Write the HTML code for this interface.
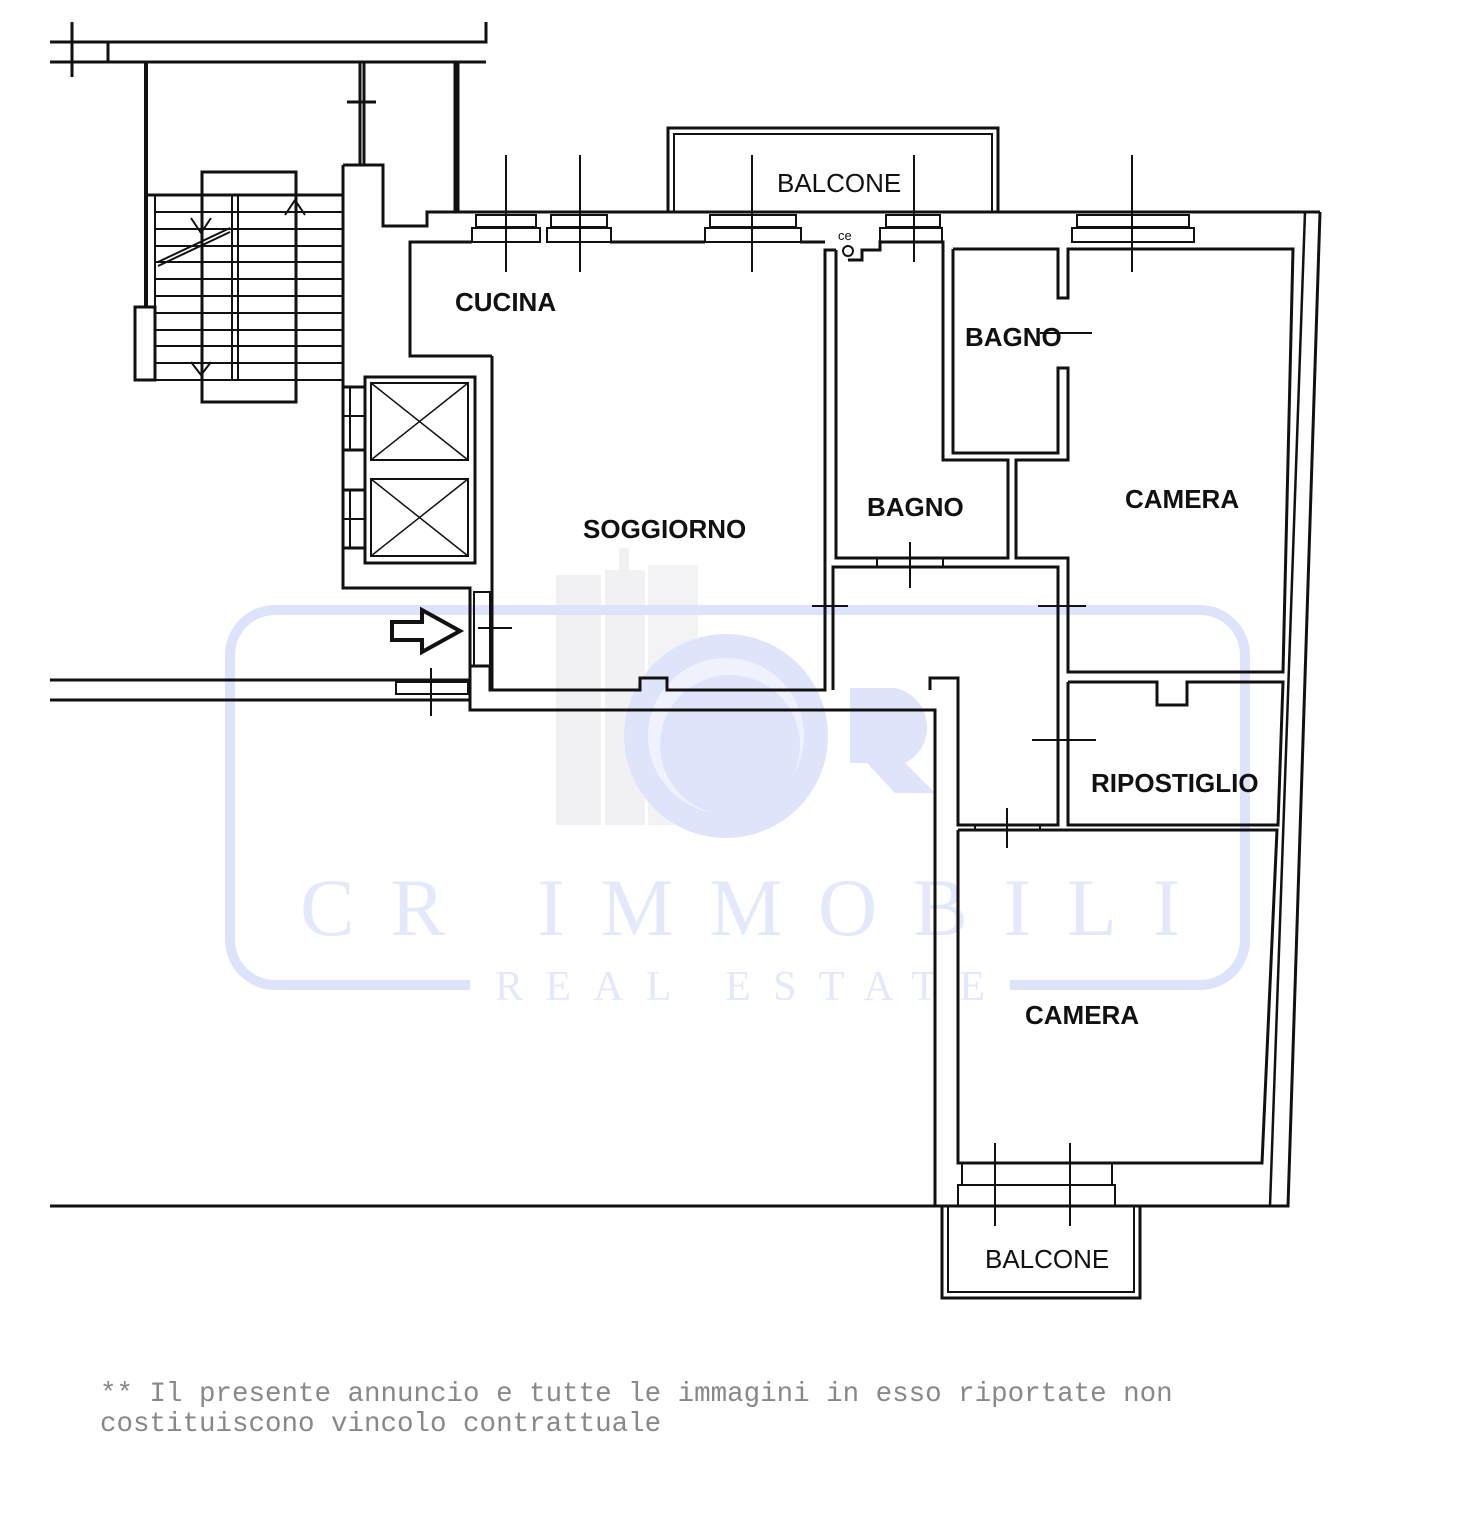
<!DOCTYPE html>
<html><head><meta charset="utf-8"><style>
html,body{margin:0;padding:0;background:#fff;width:1472px;height:1536px;overflow:hidden}
svg{position:absolute;left:0;top:0}
.t{font-family:"Liberation Sans",sans-serif;font-weight:bold;font-size:26px;fill:#111}
.b{font-family:"Liberation Sans",sans-serif;font-size:26px;fill:#111}
.f{position:absolute;left:100px;top:1380px;font-family:"Liberation Mono",monospace;font-size:27.5px;line-height:30px;color:#888;white-space:pre}
</style></head><body>
<svg width="1472" height="1536" viewBox="0 0 1472 1536">
<g>
<rect x="556" y="575" width="45" height="250" fill="#f1f1f3"/>
<rect x="605" y="570" width="40" height="255" fill="#f1f1f3"/>
<rect x="648" y="565" width="50" height="260" fill="#f3f3f5"/>
<rect x="619" y="548" width="10" height="30" fill="#f1f1f3"/>
<circle cx="726" cy="736" r="102" fill="#dfe4fb"/>
<circle cx="726" cy="736" r="78" fill="#fff" opacity="0.5"/>
<circle cx="730" cy="745" r="70" fill="#dfe4fb"/>
<path d="M850 688 h45 a40 40 0 0 1 10 75 l30 30 h-40 l-28 -30 h-17 z" fill="#dfe4fb"/>
<rect x="230" y="610" width="1015" height="375" rx="45" fill="none" stroke="#dde3fa" stroke-width="10"/>
<rect x="470" y="975" width="540" height="22" fill="#fff"/>
<text x="300" y="935" textLength="880" lengthAdjust="spacing" font-family="Liberation Serif,serif" font-size="82" fill="#e4e8fb">CR IMMOBILI</text>
<text x="495" y="1000" textLength="490" lengthAdjust="spacing" font-family="Liberation Serif,serif" font-size="42" fill="#e4e8fb">REAL ESTATE</text>
</g>
<g fill="none" stroke="#111" stroke-width="3">
<polyline points="50,42 486,42 486,22"/>
<polyline points="50,62 486,62"/>
<line x1="108" y1="42" x2="108" y2="62"/>
<line x1="72" y1="22" x2="72" y2="77"/>
<line x1="146" y1="62" x2="146" y2="307" stroke-width="4"/>
<line x1="360" y1="62" x2="360" y2="165"/><line x1="364" y1="62" x2="364" y2="165"/>
<line x1="347" y1="102" x2="376" y2="102"/>
<line x1="455" y1="62" x2="455" y2="212"/><line x1="458" y1="62" x2="458" y2="212"/>
<rect x="135" y="307" width="20" height="73"/>
<rect x="202" y="172" width="94" height="230"/>
<line x1="148" y1="195" x2="343" y2="195"/>
<g stroke-width="2">
<line x1="155" y1="195" x2="155" y2="380"/>
<line x1="155" y1="212" x2="343" y2="212"/><line x1="155" y1="229" x2="343" y2="229"/>
<line x1="155" y1="246" x2="343" y2="246"/><line x1="155" y1="262" x2="343" y2="262"/>
<line x1="155" y1="279" x2="343" y2="279"/><line x1="155" y1="296" x2="343" y2="296"/>
<line x1="155" y1="313" x2="343" y2="313"/><line x1="155" y1="330" x2="343" y2="330"/>
<line x1="155" y1="346" x2="343" y2="346"/><line x1="155" y1="363" x2="343" y2="363"/>
<line x1="155" y1="380" x2="343" y2="380"/>
<line x1="232" y1="195" x2="232" y2="380"/><line x1="238" y1="195" x2="238" y2="380"/>
<line x1="158" y1="262" x2="230" y2="228"/><line x1="158" y1="266" x2="230" y2="232"/>
<polyline points="191,218 201,233 211,218"/><polyline points="285,215 295,200 305,215"/><polyline points="191,362 201,375 211,362"/>
</g>
<polyline points="343,165 383,165 383,226 427,226 427,212 1320,212"/>
<polyline points="343,165 343,387 365,387"/>
<rect x="365" y="377" width="110" height="186"/>
<rect x="371" y="383" width="97" height="77" stroke-width="2"/>
<rect x="371" y="479" width="97" height="77" stroke-width="2"/>
<g stroke-width="1.5"><line x1="371" y1="383" x2="468" y2="460"/><line x1="468" y1="383" x2="371" y2="460"/>
<line x1="371" y1="479" x2="468" y2="556"/><line x1="468" y1="479" x2="371" y2="556"/></g>
<rect x="343" y="450" width="22" height="40"/>
<polyline points="343,387 343,450"/><polyline points="343,490 343,548 365,548"/>
<line x1="350" y1="387" x2="350" y2="450" stroke-width="2"/><line x1="350" y1="490" x2="350" y2="548" stroke-width="2"/>
<line x1="343" y1="416" x2="365" y2="416" stroke-width="2"/><line x1="343" y1="519" x2="365" y2="519" stroke-width="2"/>
<polyline points="343,548 343,588 470,588 470,710 935,710 935,1206 1288,1206 1320,212"/>
<polyline points="1305,212 1270,1206" stroke-width="2.5"/>
<polyline points="492,356 492,690 640,690 640,678 667,678 667,690 825,690 825,250 836,250"/>
<rect x="474" y="592" width="16" height="74" stroke-width="2"/>
<line x1="478" y1="628" x2="512" y2="628" stroke-width="2"/>
<line x1="470" y1="666" x2="490" y2="666"/>
<polyline points="490,666 490,690 500,690"/>
<path d="M392 622 h30 v-12 l38 21 -38 21 v-12 h-30 z" stroke-width="4"/>
<line x1="50" y1="680" x2="470" y2="680"/><line x1="50" y1="700" x2="470" y2="700"/>
<rect x="396" y="682" width="72" height="12" stroke-width="2"/>
<line x1="431" y1="668" x2="431" y2="716" stroke-width="2"/>
<line x1="50" y1="1206" x2="935" y2="1206"/>
<polyline points="492,356 410,356 410,242 472,242"/>
<line x1="610" y1="242" x2="705" y2="242"/>
<polyline points="800,242 825,242"/>
<polyline points="836,250 836,558 1008,558 1008,460 943,460 943,242 880,242 880,250 862,250 862,260 848,260"/>
<polyline points="953,249 1058,249 1058,298 1068,298 1068,249 1293,249 1283,672 1068,672 1068,558 1016,558 1016,460 1068,460 1068,368 1058,368 1058,453 953,453 953,249"/>
<line x1="1040" y1="333" x2="1092" y2="333" stroke-width="2"/>
<polyline points="833,690 833,567 1058,567 1058,825 958,825 958,678 930,678 930,690"/>
<line x1="877" y1="558" x2="877" y2="567" stroke-width="2"/><line x1="943" y1="558" x2="943" y2="567" stroke-width="2"/>
<line x1="910" y1="542" x2="910" y2="588" stroke-width="2"/>
<line x1="812" y1="606" x2="848" y2="606" stroke-width="2"/>
<line x1="1038" y1="606" x2="1086" y2="606" stroke-width="2"/>
<line x1="1032" y1="740" x2="1096" y2="740" stroke-width="2"/>
<polyline points="1068,682 1157,682 1157,705 1187,705 1187,682 1283,682 1278,825 1068,825 1068,682"/>
<polyline points="958,830 1277,830 1262,1163 958,1163 958,830"/>
<line x1="975" y1="825" x2="975" y2="830" stroke-width="2"/><line x1="1040" y1="825" x2="1040" y2="830" stroke-width="2"/>
<line x1="1007" y1="808" x2="1007" y2="848" stroke-width="2"/>
<g stroke-width="2">
<rect x="476" y="215" width="60" height="12"/><rect x="472" y="228" width="68" height="14"/>
<rect x="551" y="215" width="56" height="12"/><rect x="547" y="228" width="64" height="14"/>
<rect x="710" y="215" width="86" height="12"/><rect x="705" y="228" width="96" height="14"/>
<rect x="886" y="215" width="54" height="12"/><rect x="880" y="228" width="62" height="14"/>
<rect x="1077" y="215" width="112" height="12"/><rect x="1072" y="228" width="122" height="14"/>
<rect x="962" y="1163" width="150" height="22"/><rect x="958" y="1185" width="157" height="21"/>
</g>
<g stroke-width="2">
<line x1="506" y1="155" x2="506" y2="272"/><line x1="580" y1="155" x2="580" y2="272"/>
<line x1="752" y1="155" x2="752" y2="272"/><line x1="914" y1="155" x2="914" y2="262"/>
<line x1="1132" y1="155" x2="1132" y2="272"/>
<line x1="995" y1="1143" x2="995" y2="1226"/><line x1="1070" y1="1143" x2="1070" y2="1226"/>
</g>
<polyline points="668,212 668,128 998,128 998,212"/>
<polyline points="674,212 674,134 992,134 992,212" stroke-width="2"/>
<polyline points="942,1206 942,1298 1140,1298 1140,1206"/>
<polyline points="948,1206 948,1292 1134,1292 1134,1206" stroke-width="2"/>
<circle cx="848" cy="251" r="5" stroke-width="2"/>
</g>
<text x="455" y="311" class="t">CUCINA</text>
<text x="583" y="538" class="t">SOGGIORNO</text>
<text x="867" y="516" class="t">BAGNO</text>
<text x="965" y="346" class="t">BAGNO</text>
<text x="1125" y="508" class="t">CAMERA</text>
<text x="1091" y="792" class="t">RIPOSTIGLIO</text>
<text x="1025" y="1024" class="t">CAMERA</text>
<text x="777" y="192" class="b">BALCONE</text>
<text x="985" y="1268" class="b">BALCONE</text>
<text x="838" y="240" font-family="Liberation Sans,sans-serif" font-size="13" fill="#111">ce</text>
</svg>
<div class="f">** Il presente annuncio e tutte le immagini in esso riportate non
costituiscono vincolo contrattuale</div>
</body></html>
